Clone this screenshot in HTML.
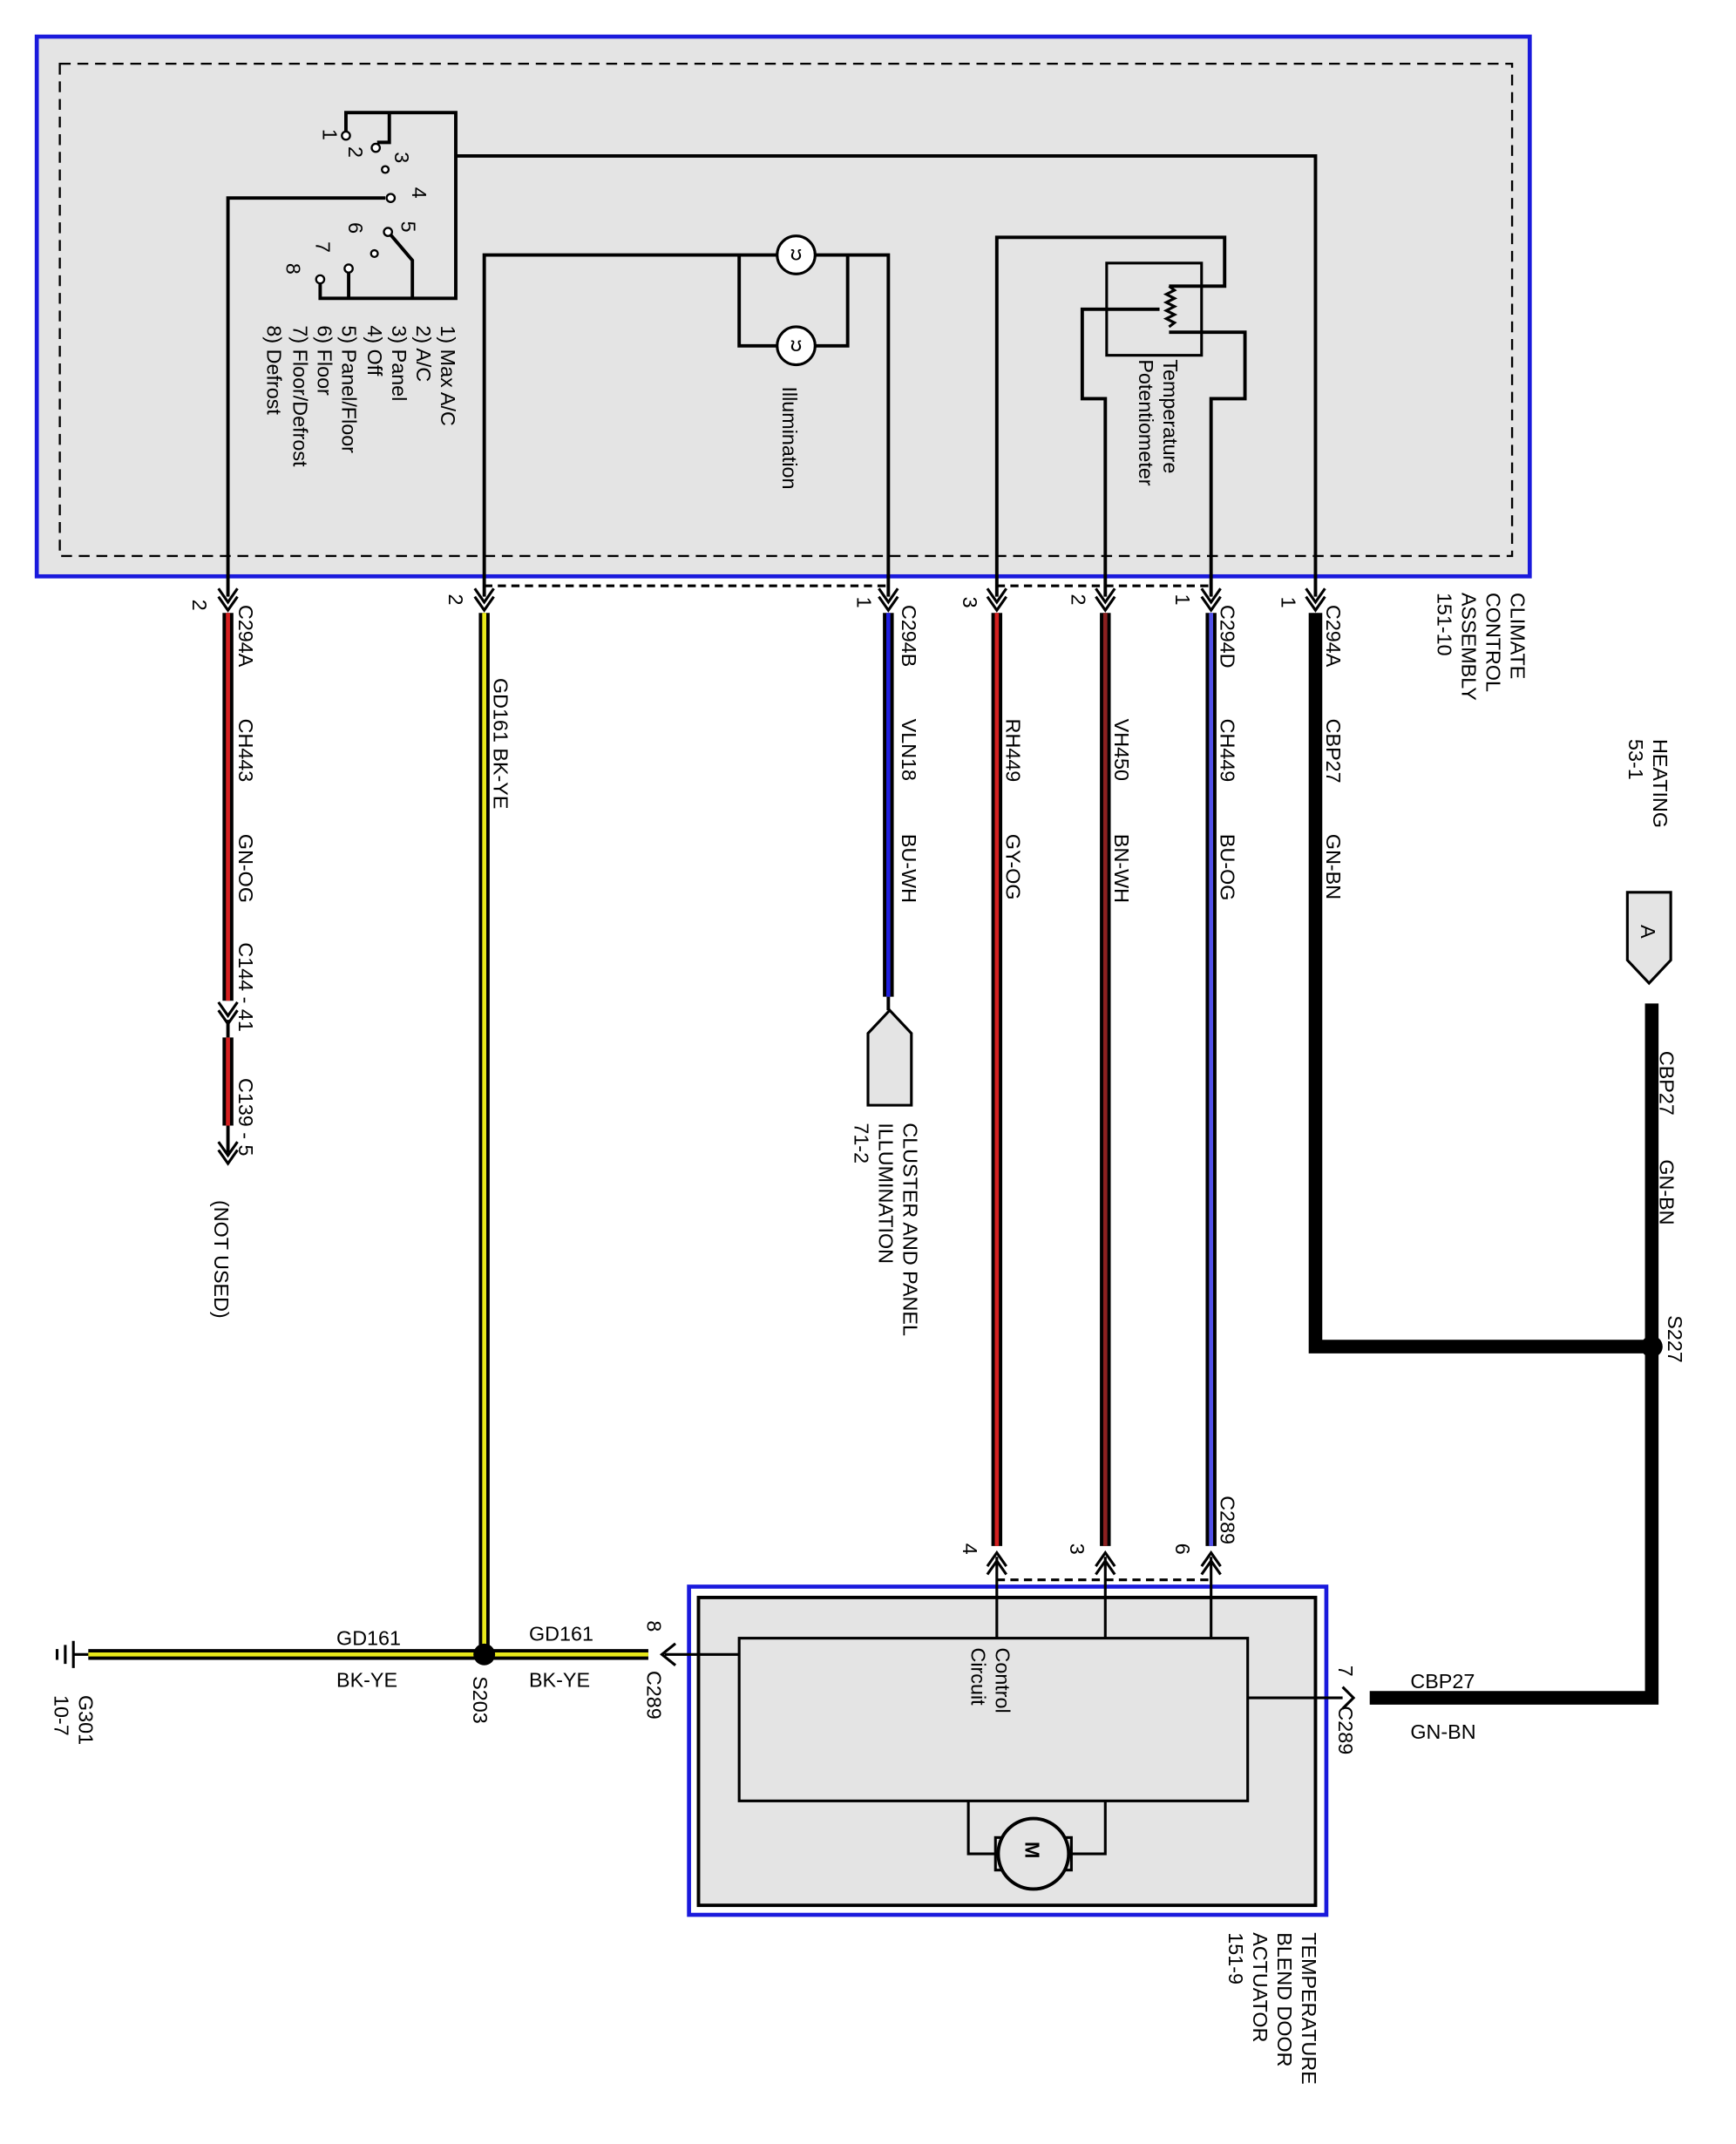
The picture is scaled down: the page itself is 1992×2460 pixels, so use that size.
<!DOCTYPE html>
<html><head><meta charset="utf-8"><style>
html,body{margin:0;padding:0;background:#fff}
svg{display:block}
text{font-family:"Liberation Sans",sans-serif;font-size:15px;fill:#000}
</style></head><body>
<svg width="1992" height="2460" viewBox="0 0 1280 1581" xmlns="http://www.w3.org/2000/svg">
<defs>
<g id="dn"><path d="M-7,-6 L0,4 L7,-6 M-7,0 L0,10 L7,0" fill="none" stroke="#000" stroke-width="2"/></g>
<g id="up"><path d="M-7,6 L0,-4 L7,6 M-7,0 L0,-10 L7,0" fill="none" stroke="#000" stroke-width="2"/></g>
</defs>
<rect x="27" y="27" width="1101" height="398" fill="#e4e4e4" stroke="#1a1adc" stroke-width="3"/>
<rect x="44" y="47" width="1071" height="363" fill="none" stroke="#000" stroke-width="1.5" stroke-dasharray="8,5"/>
<g fill="none" stroke="#000" stroke-width="2.5">
<path d="M255,98 V83 H336 V220 H236 V206"/>
<path d="M287,83 V105 H278"/>
<path d="M168,440 V146 H284"/>
<path d="M304,220 V192 L287,172"/>
<path d="M257,220 V200"/>
<path d="M336,115 H970 V440"/>
<path d="M357,440 V188 H655 V440"/>
<path d="M545,188 V255 H625 V188"/>
<path d="M735,440 V175 H903 V211 H862"/>
<path d="M862,245 H918 V294 H893 V440"/>
<path d="M815,440 V294 H798 V228 H855"/>
<rect x="816" y="194" width="70" height="68" stroke-width="2"/>
<path d="M862,211 l4,3 -6,3 6,3 -6,3 6,3 -6,3 6,3 -6,3 6,3 -4,3" stroke-width="2"/>
</g>
<g fill="#fff" stroke="#000" stroke-width="1.5">
<circle cx="255" cy="100" r="3"/><circle cx="277" cy="109" r="3"/><circle cx="284" cy="125" r="2.5"/>
<circle cx="288" cy="146" r="3"/><circle cx="286" cy="171" r="3"/><circle cx="276" cy="187" r="2.5"/>
<circle cx="257" cy="198" r="3"/><circle cx="236" cy="206" r="3"/>
</g>
<g fill="#fff" stroke="#000" stroke-width="2">
<circle cx="587" cy="188" r="14"/><circle cx="587" cy="255" r="14"/>
</g>
<g font-size="12" fill="#000">
<text x="587" y="192" text-anchor="middle">ʊ</text><text x="587" y="259" text-anchor="middle">ʊ</text>
</g>
<g font-size="17">
<text transform="translate(238,95) rotate(90)">1</text>
<text transform="translate(257,108) rotate(90)">2</text>
<text transform="translate(291,112) rotate(90)">3</text>
<text transform="translate(304,138) rotate(90)">4</text>
<text transform="translate(296,163) rotate(90)">5</text>
<text transform="translate(257,164) rotate(90)">6</text>
<text transform="translate(233,178) rotate(90)">7</text>
<text transform="translate(211,194) rotate(90)">8</text>
</g>
<g font-size="17">
<text transform="translate(325,240) rotate(90)">1) Max A/C</text>
<text transform="translate(307,240) rotate(90)">2) A/C</text>
<text transform="translate(289,240) rotate(90)">3) Panel</text>
<text transform="translate(271,240) rotate(90)">4) Off</text>
<text transform="translate(252,240) rotate(90)">5) Panel/Floor</text>
<text transform="translate(234,240) rotate(90)">6) Floor</text>
<text transform="translate(216,240) rotate(90)">7) Floor/Defrost</text>
<text transform="translate(197,240) rotate(90)">8) Defrost</text>
<text transform="translate(577,285) rotate(90)">Illumination</text>
<text transform="translate(858,265) rotate(90)">Temperature</text>
<text transform="translate(840,265) rotate(90)">Potentiometer</text>
</g>
<path d="M357,432 H655 M735,432 H893" stroke="#000" stroke-width="2" stroke-dasharray="6,4"/>
<use href="#dn" x="168" y="440"/><use href="#dn" x="357" y="440"/><use href="#dn" x="655" y="440"/>
<use href="#dn" x="735" y="440"/><use href="#dn" x="815" y="440"/><use href="#dn" x="893" y="440"/><use href="#dn" x="970" y="440"/>
<g fill="none">
<path d="M168,452 V738 M168,765 V830" stroke="#000" stroke-width="8"/>
<path d="M168,452 V738 M168,765 V830" stroke="#d42020" stroke-width="3"/>
<path d="M168,752 V765 M168,830 V850" stroke="#000" stroke-width="2.5"/>
<path d="M357,452 V1220" stroke="#000" stroke-width="8"/><path d="M357,452 V1220" stroke="#e8e81a" stroke-width="3"/>
<path d="M655,452 V735" stroke="#000" stroke-width="8"/><path d="M655,452 V735" stroke="#2020e0" stroke-width="3"/>
<path d="M655,735 V745" stroke="#000" stroke-width="2.5"/>
<path d="M735,452 V1140" stroke="#000" stroke-width="8"/><path d="M735,452 V1140" stroke="#d42020" stroke-width="3"/>
<path d="M815,452 V1140" stroke="#000" stroke-width="8"/><path d="M815,452 V1140" stroke="#8b2020" stroke-width="3"/>
<path d="M893,452 V1140" stroke="#000" stroke-width="8"/><path d="M893,452 V1140" stroke="#5050e8" stroke-width="3"/>
<path d="M970,452 V993 H1218 V740 M1218,993 V1252 H1010" stroke="#000" stroke-width="10"/>
<path d="M65,1220 H478" stroke="#000" stroke-width="8"/><path d="M65,1220 H478" stroke="#e8e81a" stroke-width="3"/>
</g>
<use href="#dn" x="168" y="745"/><use href="#dn" x="168" y="848"/>
<circle cx="1218" cy="993" r="8" fill="#000"/>
<circle cx="357" cy="1220" r="8" fill="#000"/>
<path d="M54,1210 V1230 M48,1213 V1227 M42,1216 V1224" stroke="#000" stroke-width="2"/>
<path d="M54,1220 H65" stroke="#000" stroke-width="2"/>
<path d="M640,815 V762 L656,745 L672,762 V815 Z" fill="#e4e4e4" stroke="#000" stroke-width="2"/>
<path d="M1200,658 H1232 V708 L1216,725 L1200,708 Z" fill="#e4e4e4" stroke="#000" stroke-width="2"/>
<text transform="translate(1210,682) rotate(90)" font-size="17">A</text>
<rect x="508" y="1170" width="470" height="242" fill="#fff" stroke="#1a1adc" stroke-width="3"/>
<rect x="515" y="1178" width="455" height="227" fill="#e4e4e4" stroke="#000" stroke-width="2.5"/>
<rect x="545" y="1208" width="375" height="120" fill="#e4e4e4" stroke="#000" stroke-width="2"/>
<path d="M735,1148 V1208 M815,1148 V1208 M893,1148 V1208 M920,1252 H990 M545,1220 H490" stroke="#000" stroke-width="2"/>
<path d="M735,1165 H893" stroke="#000" stroke-width="2" stroke-dasharray="6,4"/>
<use href="#up" x="735" y="1155"/><use href="#up" x="815" y="1155"/><use href="#up" x="893" y="1155"/>
<path d="M498,1212 L488,1220 L498,1228" fill="none" stroke="#000" stroke-width="2"/>
<path d="M990,1244 L998,1252 L990,1260" fill="none" stroke="#000" stroke-width="2"/>
<path d="M714,1328 V1367 H734 M790,1367 H815 V1328" fill="none" stroke="#000" stroke-width="2"/>
<rect x="734" y="1355" width="8" height="24" fill="#e4e4e4" stroke="#000" stroke-width="2"/>
<rect x="782" y="1355" width="8" height="24" fill="#e4e4e4" stroke="#000" stroke-width="2"/>
<circle cx="762" cy="1367" r="26" fill="#e4e4e4" stroke="#000" stroke-width="2.5"/>
<text transform="translate(756,1358) rotate(90)" font-size="18" font-weight="bold">M</text>
<g font-size="17.5">
<text transform="translate(142,442) rotate(90)">2</text>
<text transform="translate(331,438) rotate(90)">2</text>
<text transform="translate(632,440) rotate(90)">1</text>
<text transform="translate(710,440) rotate(90)">3</text>
<text transform="translate(790,438) rotate(90)">2</text>
<text transform="translate(867,438) rotate(90)">1</text>
<text transform="translate(945,440) rotate(90)">1</text>
<text transform="translate(176,446) rotate(90)">C294A</text>
<text transform="translate(176,530) rotate(90)">CH443</text>
<text transform="translate(176,615) rotate(90)">GN-OG</text>
<text transform="translate(176,695) rotate(90)">C144 - 41</text>
<text transform="translate(176,795) rotate(90)">C139 - 5</text>
<text transform="translate(158,885) rotate(90)">(NOT USED)</text>
<text transform="translate(364,500) rotate(90)">GD161  BK-YE</text>
<text transform="translate(665,446) rotate(90)">C294B</text>
<text transform="translate(665,530) rotate(90)">VLN18</text>
<text transform="translate(665,615) rotate(90)">BU-WH</text>
<text transform="translate(666,828) rotate(90)">CLUSTER AND PANEL</text>
<text transform="translate(648,828) rotate(90)">ILLUMINATION</text>
<text transform="translate(630,828) rotate(90)">71-2</text>
<text transform="translate(742,530) rotate(90)">RH449</text>
<text transform="translate(742,615) rotate(90)">GY-OG</text>
<text transform="translate(822,530) rotate(90)">VH450</text>
<text transform="translate(822,615) rotate(90)">BN-WH</text>
<text transform="translate(900,446) rotate(90)">C294D</text>
<text transform="translate(900,530) rotate(90)">CH449</text>
<text transform="translate(900,615) rotate(90)">BU-OG</text>
<text transform="translate(978,446) rotate(90)">C294A</text>
<text transform="translate(978,530) rotate(90)">CBP27</text>
<text transform="translate(978,615) rotate(90)">GN-BN</text>
<text transform="translate(1114,437) rotate(90)">CLIMATE</text>
<text transform="translate(1096,437) rotate(90)">CONTROL</text>
<text transform="translate(1078,437) rotate(90)">ASSEMBLY</text>
<text transform="translate(1060,437) rotate(90)">151-10</text>
<text transform="translate(1219,545) rotate(90)">HEATING</text>
<text transform="translate(1201,545) rotate(90)">53-1</text>
<text transform="translate(1224,775) rotate(90)">CBP27</text>
<text transform="translate(1224,855) rotate(90)">GN-BN</text>
<text transform="translate(1230,970) rotate(90)">S227</text>
<text transform="translate(900,1103) rotate(90)">C289</text>
<text transform="translate(710,1138) rotate(90)">4</text>
<text transform="translate(789,1138) rotate(90)">3</text>
<text transform="translate(867,1138) rotate(90)">6</text>
<text transform="translate(349,1236) rotate(90)">S203</text>
<text transform="translate(477,1195) rotate(90)">8</text>
<text transform="translate(477,1232) rotate(90)">C289</text>
<text transform="translate(987,1228) rotate(90)">7</text>
<text transform="translate(987,1258) rotate(90)">C289</text>
<text transform="translate(58,1250) rotate(90)">G301</text>
<text transform="translate(40,1250) rotate(90)">10-7</text>
<text transform="translate(734,1215) rotate(90)">Control</text>
<text transform="translate(716,1215) rotate(90)">Circuit</text>
<text transform="translate(960,1425) rotate(90)">TEMPERATURE</text>
<text transform="translate(942,1425) rotate(90)">BLEND DOOR</text>
<text transform="translate(924,1425) rotate(90)">ACTUATOR</text>
<text transform="translate(906,1425) rotate(90)">151-9</text>
</g>
<g font-size="17.5">
<text x="248" y="1213">GD161</text><text x="248" y="1244">BK-YE</text>
<text x="390" y="1210">GD161</text><text x="390" y="1244">BK-YE</text>
<text x="1040" y="1245">CBP27</text><text x="1040" y="1282">GN-BN</text>
</g>
</svg>
</body></html>
